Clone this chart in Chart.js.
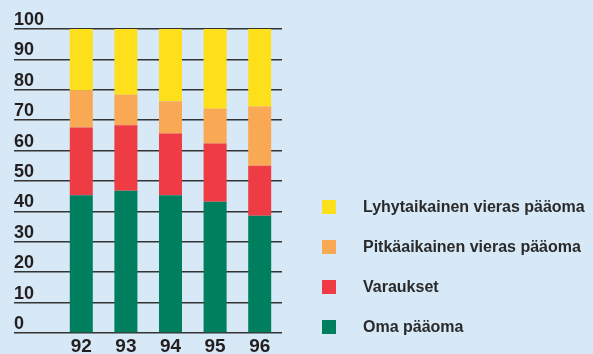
<!DOCTYPE html>
<html>
<head>
<meta charset="utf-8">
<script src="https://cdn.jsdelivr.net/npm/chart.js@4"></script>
<style>
  body { margin: 0; background: #d7e8f6; }
  #wrap { width: 593px; height: 354px; }
</style>
</head>
<body>
<div id="wrap"><canvas id="rakenne" width="593" height="354"></canvas></div>
<script>
// Vuodet ja pääomarakenteen osuudet (%)
const vuodet = ["92", "93", "94", "95", "96"];
const omaPaaoma = [45.3, 46.8, 45.3, 43.2, 38.6];
const varaukset = [22.3, 21.5, 20.3, 19.1, 16.4];
const pitkaVieras = [12.2, 10.1, 10.6, 11.5, 19.5];
const lyhytVieras = [20.2, 21.6, 23.8, 26.2, 25.5];
const yTicks = [0, 10, 20, 30, 40, 50, 60, 70, 80, 90, 100];

const tekstiVari = '#231f20';

// Selite piirretään itse: neliö vasemmalla, teksti kauempana
const selite = {
  id: 'selite',
  afterDraw(chart) {
    const ctx = chart.ctx;
    const sets = chart.data.datasets.slice().reverse();
    ctx.save();
    ctx.font = 'bold 16px "Liberation Sans", Arial, sans-serif';
    ctx.textBaseline = 'middle';
    ctx.textAlign = 'left';
    sets.forEach(function (ds, i) {
      const y = 207 + i * 40;
      ctx.fillStyle = ds.backgroundColor;
      ctx.fillRect(322, y - 7, 14, 14);
      ctx.fillStyle = '#2a2a2a';
      ctx.fillText(ds.label, 363, y + 1);
    });
    ctx.restore();
  }
};

const ctx = document.getElementById('rakenne').getContext('2d');
new Chart(ctx, {
  type: 'bar',
  data: {
    labels: vuodet,
    datasets: [
      { label: 'Oma pääoma', data: omaPaaoma, backgroundColor: '#007f5f' },
      { label: 'Varaukset', data: varaukset, backgroundColor: '#ef3b43' },
      { label: 'Pitkäaikainen vieras pääoma', data: pitkaVieras, backgroundColor: '#f9a853' },
      { label: 'Lyhytaikainen vieras pääoma', data: lyhytVieras, backgroundColor: '#fde01b' }
    ]
  },
  options: {
    responsive: false,
    animation: false,
    devicePixelRatio: 1,
    layout: { padding: { left: 14, right: 311, top: 29, bottom: 0 } },
    datasets: {
      bar: { barPercentage: 1, categoryPercentage: 0.516 }
    },
    plugins: {
      legend: { display: false },
      tooltip: { enabled: false }
    },
    scales: {
      x: {
        stacked: true,
        afterFit(scale) { scale.height = 21; },
        grid: { display: false, drawTicks: false },
        border: { display: false },
        ticks: {
          color: tekstiVari,
          padding: 4,
          font: { family: '"Liberation Sans", Arial, sans-serif', size: 19, weight: 'bold', lineHeight: 1 }
        }
      },
      y: {
        stacked: true,
        min: 0,
        max: 100,
        afterFit(scale) { scale.width = 45; },
        afterBuildTicks(scale) { scale.ticks = yTicks.map(v => ({ value: v })); },
        grid: { color: '#333333', lineWidth: 1.5, drawTicks: true, tickLength: 45 },
        border: { display: false },
        ticks: {
          color: tekstiVari,
          crossAlign: 'far',
          labelOffset: -9,
          font: { family: '"Liberation Sans", Arial, sans-serif', size: 18, weight: 'bold' }
        }
      }
    }
  },
  plugins: [selite]
});
</script>
</body>
</html>
